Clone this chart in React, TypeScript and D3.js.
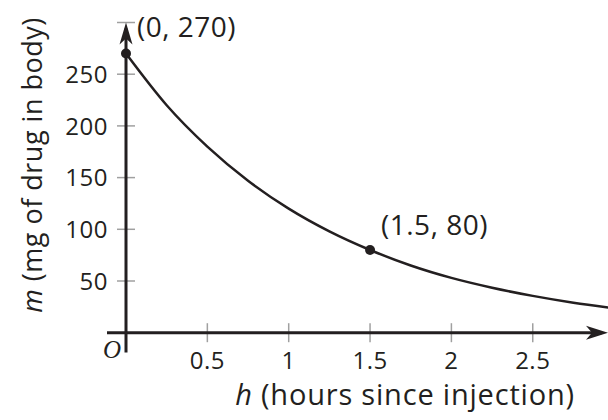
import React, { useRef, useEffect } from "react";
import * as d3 from "d3";

// curve (hours, mg)
const hours = [0, 0.25, 0.5, 0.75, 1, 1.25, 1.5, 1.75, 2, 2.25, 2.5, 2.75, 3];
const mg = [270, 220, 180, 147, 120, 98, 80, 65, 53, 43.5, 35.6, 29, 23.7];

const labeledPoints: [number, number][] = [
    [0, 270],
    [1.5, 80],
];
const pointLabels = ["(0, 270)", "(1.5, 80)"];

const xTicks = [0.5, 1, 1.5, 2, 2.5];
const xTickLabels = ["0.5", "1", "1.5", "2", "2.5"];
const yTicks = [50, 100, 150, 200, 250, 300];
const yTickLabels = ["50", "100", "150", "200", "250", ""];

const W = 608;
const H = 420;
const FONT = "'Open Sans', sans-serif";
const INK = "#231f20";

const App: React.FC = () => {
    const svgRef = useRef<SVGSVGElement>(null);

    useEffect(() => {
        const svgElement = svgRef.current;
        if (!svgElement) return;
        d3.select(svgElement).selectAll("*").remove();

        const svg = d3.select(svgElement);

        const x = d3.scaleLinear().domain([0, 3]).range([126, 126 + 3 * 162.7]);
        const y = d3.scaleLinear().domain([0, 300]).range([332.7, 22.5]);
        const x0 = x(0);
        const y0 = y(0);

        // tick marks
        svg.append("g")
            .selectAll("line")
            .data(xTicks)
            .join("line")
            .attr("x1", (d) => x(d))
            .attr("x2", (d) => x(d))
            .attr("y1", y0 - 9.5)
            .attr("y2", y0 + 9.5)
            .attr("stroke", "#a0a0a0")
            .attr("stroke-width", 1.5);

        svg.append("g")
            .selectAll("line")
            .data(yTicks)
            .join("line")
            .attr("x1", x0 - 9)
            .attr("x2", x0 + 9)
            .attr("y1", (d) => y(d))
            .attr("y2", (d) => y(d))
            .attr("stroke", "#a0a0a0")
            .attr("stroke-width", 1.5);

        // axes
        svg.append("line")
            .attr("x1", 107)
            .attr("x2", W - 6)
            .attr("y1", y0)
            .attr("y2", y0)
            .attr("stroke", INK)
            .attr("stroke-width", 3);
        svg.append("line")
            .attr("x1", x0)
            .attr("x2", x0)
            .attr("y1", 352.5)
            .attr("y2", y(300) + 6)
            .attr("stroke", INK)
            .attr("stroke-width", 3);

        // arrow heads
        const yt = y(300);
        svg.append("path")
            .attr("d", `M${x0},${yt} L${x0 + 6.5},${yt + 22} L${x0},${yt + 16} L${x0 - 6.5},${yt + 22} Z`)
            .attr("fill", INK);
        const xt = W;
        svg.append("path")
            .attr("d", `M${xt},${y0} L${xt - 22},${y0 - 7} L${xt - 16},${y0} L${xt - 22},${y0 + 7} Z`)
            .attr("fill", INK);

        // tick labels
        svg.append("g")
            .selectAll("text")
            .data(xTicks)
            .join("text")
            .attr("x", (d) => x(d))
            .attr("y", 369)
            .attr("text-anchor", "middle")
            .attr("font-family", FONT)
            .attr("font-size", 24)
            .attr("letter-spacing", 0.5)
            .attr("fill", INK)
            .text((_, i) => xTickLabels[i]);

        svg.append("g")
            .selectAll("text")
            .data(yTicks)
            .join("text")
            .attr("x", 108)
            .attr("y", (d) => y(d))
            .attr("dy", "0.36em")
            .attr("text-anchor", "end")
            .attr("font-family", FONT)
            .attr("font-size", 24)
            .attr("letter-spacing", 0.5)
            .attr("fill", INK)
            .text((_, i) => yTickLabels[i]);

        // origin
        svg.append("text")
            .attr("x", 112)
            .attr("y", 358)
            .attr("text-anchor", "middle")
            .attr("font-family", "'Liberation Serif', serif")
            .attr("font-style", "italic")
            .attr("font-size", 25)
            .attr("fill", INK)
            .text("O");

        // curve
        const line = d3
            .line<number>()
            .x((d) => x(d))
            .y((_, i) => y(mg[i]))
            .curve(d3.curveMonotoneX);
        svg.append("path")
            .attr("d", line(hours))
            .attr("fill", "none")
            .attr("stroke", INK)
            .attr("stroke-width", 2.5);

        // points
        svg.append("g")
            .selectAll("circle")
            .data(labeledPoints)
            .join("circle")
            .attr("cx", (d) => x(d[0]))
            .attr("cy", (d) => y(d[1]))
            .attr("r", 5)
            .attr("fill", INK);

        const labelPos = [
            [137, 37],
            [381, 235],
        ];
        svg.append("g")
            .selectAll("text")
            .data(pointLabels)
            .join("text")
            .attr("x", (_, i) => labelPos[i][0])
            .attr("y", (_, i) => labelPos[i][1])
            .attr("font-family", FONT)
            .attr("font-size", 28)
            .attr("letter-spacing", 0.5)
            .attr("fill", INK)
            .text((d) => d);

        // axis titles
        const xTitle = svg
            .append("text")
            .attr("x", 405)
            .attr("y", 405)
            .attr("text-anchor", "middle")
            .attr("font-family", FONT)
            .attr("font-size", 29)
            .attr("letter-spacing", 0.8)
            .attr("fill", INK);
        xTitle.append("tspan").attr("font-style", "italic").text("h");
        xTitle.append("tspan").text(" (hours since injection)");

        const yTitle = svg
            .append("text")
            .attr("transform", `translate(42, 165) rotate(-90)`)
            .attr("text-anchor", "middle")
            .attr("font-family", FONT)
            .attr("font-size", 27)
            .attr("letter-spacing", 0.5)
            .attr("fill", INK);
        yTitle.append("tspan").attr("font-style", "italic").text("m");
        yTitle.append("tspan").text(" (mg of drug in body)");
    }, []);

    return (
        <svg
            ref={svgRef}
            width={W}
            height={H}
            style={{ position: "absolute", left: 0, top: 0, background: "#fff" }}
        ></svg>
    );
};

export default App;
